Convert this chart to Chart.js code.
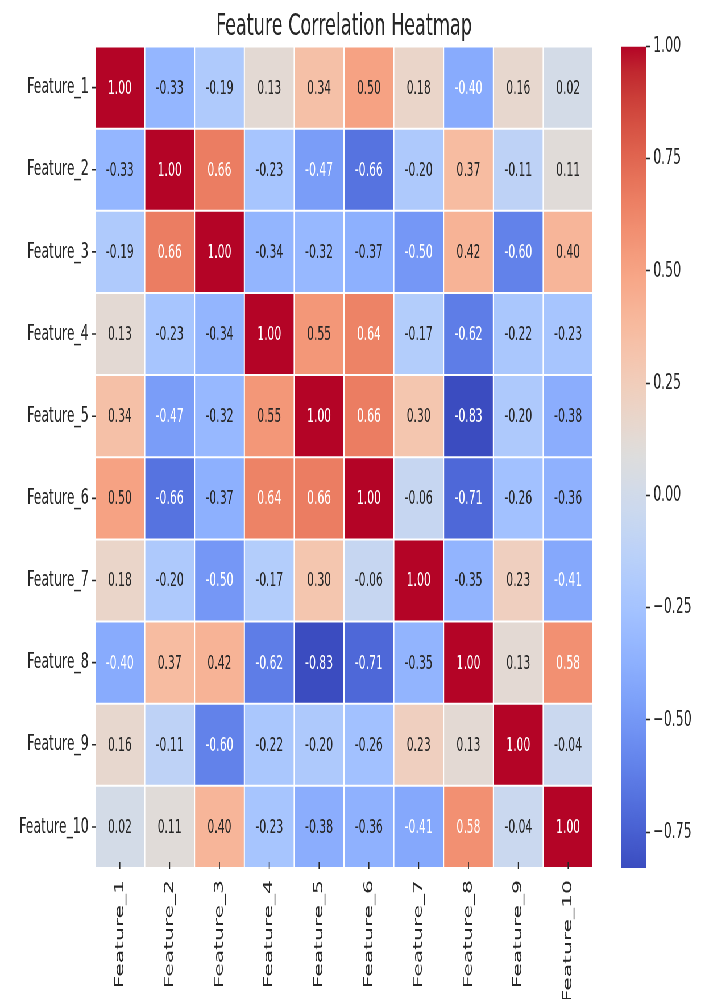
<!DOCTYPE html>
<html>
<head>
<meta charset="utf-8">
<title>Feature Correlation Heatmap</title>
<script src="https://cdn.jsdelivr.net/npm/chart.js@4.4.1/dist/chart.umd.min.js"></script>
<style>
  html, body { margin: 0; padding: 0; background: #fff; overflow: hidden; }
  /* the figure is laid out on a wide stage and compressed horizontally */
  #stage { position: absolute; left: 0; top: 0; width: 1240px; height: 999px;
           transform-origin: 0 0; transform: scale(0.56855, 1); background: #fff; }
  #heat { position: absolute; left: 0; top: 0; }
  #cbar { position: absolute; left: 1060px; top: 0; }
</style>
</head>
<body>
<div id="stage">
  <canvas id="heat" width="1060" height="999" style="width:1060px;height:999px"></canvas>
  <canvas id="cbar" width="180" height="999" style="width:180px;height:999px"></canvas>
</div>
<script>
// ---- data ----
const features = ['Feature_1', 'Feature_2', 'Feature_3', 'Feature_4', 'Feature_5',
                  'Feature_6', 'Feature_7', 'Feature_8', 'Feature_9', 'Feature_10'];

const corrFeature1  = [ 1.00, -0.33, -0.19,  0.13,  0.34,  0.50,  0.18, -0.40,  0.16,  0.02];
const corrFeature2  = [-0.33,  1.00,  0.66, -0.23, -0.47, -0.66, -0.20,  0.37, -0.11,  0.11];
const corrFeature3  = [-0.19,  0.66,  1.00, -0.34, -0.32, -0.37, -0.50,  0.42, -0.60,  0.40];
const corrFeature4  = [ 0.13, -0.23, -0.34,  1.00,  0.55,  0.64, -0.17, -0.62, -0.22, -0.23];
const corrFeature5  = [ 0.34, -0.47, -0.32,  0.55,  1.00,  0.66,  0.30, -0.83, -0.20, -0.38];
const corrFeature6  = [ 0.50, -0.66, -0.37,  0.64,  0.66,  1.00, -0.06, -0.71, -0.26, -0.36];
const corrFeature7  = [ 0.18, -0.20, -0.50, -0.17,  0.30, -0.06,  1.00, -0.35,  0.23, -0.41];
const corrFeature8  = [-0.40,  0.37,  0.42, -0.62, -0.83, -0.71, -0.35,  1.00,  0.13,  0.58];
const corrFeature9  = [ 0.16, -0.11, -0.60, -0.22, -0.20, -0.26,  0.23,  0.13,  1.00, -0.04];
const corrFeature10 = [ 0.02,  0.11,  0.40, -0.23, -0.38, -0.36, -0.41,  0.58, -0.04,  1.00];

const colorbarTicks = [-0.75, -0.50, -0.25, 0.00, 0.25, 0.50, 0.75, 1.00];

const matrix = [corrFeature1, corrFeature2, corrFeature3, corrFeature4, corrFeature5,
                corrFeature6, corrFeature7, corrFeature8, corrFeature9, corrFeature10];

// colour scale limits follow the data
const vmin = Math.min(...matrix.flat());
const vmax = Math.max(...matrix.flat());

// ---- coolwarm colormap (33 evenly spaced control points) ----
const COOLWARM = [
  [0.2298057, 0.298717966, 0.753683153], [0.26623388, 0.353094838, 0.801466763],
  [0.30386891, 0.406535296, 0.84495867],  [0.342804478, 0.458757618, 0.883725899],
  [0.38301334, 0.50941904, 0.917387822],  [0.424369608, 0.558148092, 0.945619588],
  [0.46666708, 0.604562568, 0.968154911], [0.509635204, 0.648280772, 0.98478814],
  [0.552953156, 0.688929332, 0.995375608],[0.596262162, 0.726149107, 0.999836203],
  [0.639176211, 0.759599947, 0.998151185],[0.681291281, 0.788964712, 0.990363227],
  [0.722193294, 0.813952739, 0.976574709],[0.761464949, 0.834302879, 0.956945269],
  [0.798691636, 0.849786142, 0.931688648],[0.833466556, 0.860207984, 0.901068838],
  [0.865395197, 0.86541021, 0.865395561], [0.897787179, 0.848937047, 0.820880546],
  [0.924127593, 0.827384882, 0.774508472],[0.944468518, 0.800927443, 0.726736146],
  [0.958852946, 0.769767752, 0.678007945],[0.96732803, 0.734132809, 0.628751763],
  [0.969954137, 0.694266682, 0.579375448],[0.966811177, 0.650421156, 0.530263762],
  [0.958003065, 0.602842431, 0.481775914],[0.943660866, 0.551750968, 0.434243684],
  [0.923944917, 0.49730856, 0.387970225], [0.89904617, 0.439559467, 0.343229596],
  [0.869186849, 0.378313092, 0.300267182],[0.834620542, 0.312874446, 0.259301199],
  [0.795631745, 0.24128379, 0.220525627], [0.752534934, 0.157246067, 0.184115123],
  [0.705673158, 0.01555616, 0.150232812]
];

function coolwarm(t) {
  t = Math.min(1, Math.max(0, t));
  const n = COOLWARM.length - 1;
  const p = t * n;
  const i = Math.min(n - 1, Math.floor(p));
  const f = p - i;
  const a = COOLWARM[i], b = COOLWARM[i + 1];
  return [0, 1, 2].map(k => a[k] + (b[k] - a[k]) * f);
}
// 256-entry lookup, as a lut-based colormap would quantize
function rgbForValue(v) {
  const t = (v - vmin) / (vmax - vmin);
  const idx = Math.min(255, Math.max(0, Math.floor(t * 256)));
  return coolwarm(idx / 255);
}
const css = rgb => `rgb(${rgb.map(c => Math.round(c * 255)).join(',')})`;
function luminance(rgb) {
  const lin = rgb.map(c => c <= 0.03928 ? c / 12.92 : Math.pow((c + 0.055) / 1.055, 2.4));
  return 0.2126 * lin[0] + 0.7152 * lin[1] + 0.0722 * lin[2];
}

const FONT = "'DejaVu Sans', 'Liberation Sans', sans-serif";
const INK = '#262626';
const LUM_THRESHOLD = 0.42;

// ---- plugins: value annotations and tick marks ----
const cellValues = {
  id: 'cellValues',
  afterDatasetsDraw(chart) {
    const ctx = chart.ctx;
    ctx.save();
    ctx.font = `19px ${FONT}`;
    ctx.textAlign = 'center';
    ctx.textBaseline = 'middle';
    chart.data.datasets.forEach((ds, i) => {
      const meta = chart.getDatasetMeta(i);
      meta.data.forEach((el, j) => {
        const v = ds.data[j].v;
        const {x, y, base} = el.getProps(['x', 'y', 'base'], true);
        ctx.fillStyle = luminance(rgbForValue(v)) > LUM_THRESHOLD ? INK : '#ffffff';
        ctx.fillText(v.toFixed(2), x, (y + base) / 2 + 1);
      });
    });
    ctx.restore();
  }
};

const tickMarks = {
  id: 'tickMarks',
  afterDraw(chart) {
    const {ctx, chartArea, scales} = chart;
    ctx.save();
    ctx.strokeStyle = INK;
    ctx.lineWidth = 1.6;
    ctx.beginPath();
    features.forEach((_, i) => {
      const yc = scales.y.getPixelForValue(i + 0.5);
      ctx.moveTo(chartArea.left - 6, yc);
      ctx.lineTo(chartArea.left + 1, yc);
      const xc = scales.x.getPixelForTick(i);
      ctx.moveTo(xc, chartArea.bottom - 6);
      ctx.lineTo(xc, chartArea.bottom + 1);
    });
    ctx.stroke();
    ctx.restore();
  }
};

// ---- heatmap: one floating-bar dataset per row ----
const datasets = features.map((rowName, i) => ({
  label: rowName,
  data: features.map((colName, j) => ({ x: colName, y: [i, i + 1], v: matrix[i][j] })),
  backgroundColor: ctx => (ctx.raw ? css(rgbForValue(ctx.raw.v)) : '#fff'),
  borderColor: '#ffffff',
  borderWidth: 1,
  borderSkipped: false,
  inflateAmount: 0,
  barPercentage: 1,
  categoryPercentage: 1,
  grouped: false
}));

new Chart(document.getElementById('heat'), {
  type: 'bar',
  data: { labels: features, datasets },
  options: {
    responsive: false,
    animation: false,
    devicePixelRatio: 1,
    layout: { padding: { left: 0, right: 17, top: 0, bottom: 0 } },
    plugins: {
      legend: { display: false },
      tooltip: { enabled: false },
      title: {
        display: true,
        text: 'Feature Correlation Heatmap',
        color: INK,
        fullSize: false,
        font: { family: FONT, size: 31, weight: 'normal' },
        padding: { top: 8, bottom: 1.3 }
      }
    },
    scales: {
      x: {
        type: 'category',
        grid: { display: false, drawTicks: false },
        border: { display: false },
        afterFit: s => { s.height = 131; },
        ticks: {
          minRotation: 90, maxRotation: 90, autoSkip: false, padding: 12,
          color: INK, font: { family: FONT, size: 22 }
        }
      },
      y: {
        type: 'linear',
        min: 0, max: features.length,
        reverse: true,
        grid: { display: false, drawTicks: false },
        border: { display: false },
        afterBuildTicks: s => { s.ticks = features.map((_, i) => ({ value: i + 0.5 })); },
        afterFit: s => { s.width = 167; },
        ticks: {
          autoSkip: false, padding: 11, color: INK,
          font: { family: FONT, size: 22 },
          callback: (value, index) => features[index]
        }
      }
    }
  },
  plugins: [cellValues, tickMarks]
});

// ---- colour bar ----
const fmtTick = v => (v < 0 ? '\u2212' : '') + Math.abs(v).toFixed(2);

new Chart(document.getElementById('cbar'), {
  type: 'bar',
  data: {
    labels: ['scale'],
    datasets: [{
      data: [[vmin, vmax]],
      backgroundColor(ctx) {
        const chart = ctx.chart;
        const ys = chart.scales.y;
        if (!chart.chartArea || !ys) return '#ccc';
        const g = chart.ctx.createLinearGradient(0, ys.getPixelForValue(vmin), 0, ys.getPixelForValue(vmax));
        for (let k = 0; k <= 128; k++) {
          const t = k / 128;
          g.addColorStop(t, css(coolwarm(t)));
        }
        return g;
      },
      borderWidth: 0,
      inflateAmount: 0,
      barPercentage: 1,
      categoryPercentage: 1
    }]
  },
  options: {
    responsive: false,
    animation: false,
    devicePixelRatio: 1,
    layout: { padding: { left: 32, right: 0, top: 46.5, bottom: 131 } },
    plugins: { legend: { display: false }, tooltip: { enabled: false } },
    scales: {
      x: { display: false },
      y: {
        position: 'right',
        min: vmin, max: vmax,
        afterBuildTicks: s => { s.ticks = colorbarTicks.map(v => ({ value: v })); },
        afterFit: s => { s.width = 104; },
        grid: { drawOnChartArea: false, drawTicks: true, tickLength: 7, tickColor: INK, tickWidth: 1.6 },
        border: { display: false },
        ticks: {
          autoSkip: false, padding: 6, color: INK,
          font: { family: FONT, size: 22 },
          callback: v => fmtTick(v)
        }
      }
    }
  }
});
</script>
</body>
</html>
